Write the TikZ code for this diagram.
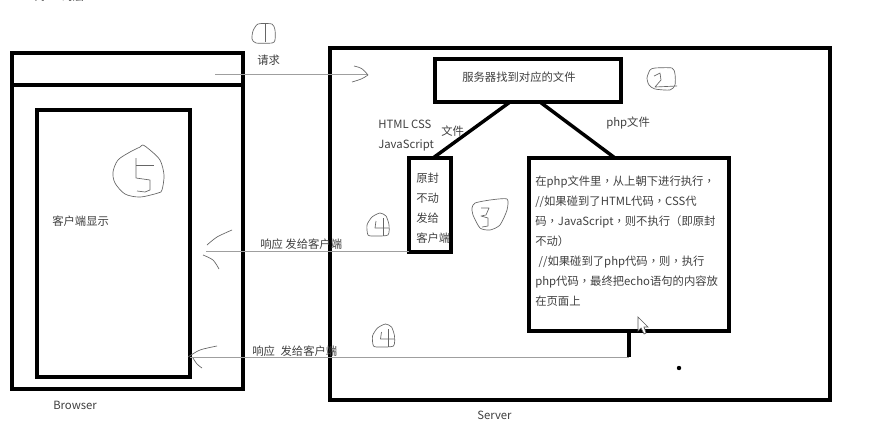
\documentclass[tikz,border=0pt]{standalone}
\usepackage{fontspec}
\setmainfont{Noto Sans CJK SC}
\newfontfamily\figPunct{Noto Sans CJK TC}
\usetikzlibrary{calc}
\definecolor{labelgray}{HTML}{404040}
\newcommand{\figPx}{.75pt}
\newcommand{\figComma}{{\figPunct ，}}
\tikzset{
	frame/.style={draw=black, line width=2.6pt, inner sep=0pt, outer sep=0pt},
	bar/.style={draw=black, line width=2.6pt},
	wire/.style={draw=gray!75, line width=.6pt},
	sketch/.style={draw=gray!80!black, line width=.5pt, line join=round},
	tag/.style={text=labelgray, font=\fontsize{8.5pt}{15pt}\selectfont, inner sep=0pt, anchor=west, align=left}
}

\begin{document}
\begin{tikzpicture}[x=.75pt, y=-.75pt]
	\useasboundingbox (0,0) rectangle (880,433);
	\fill[white] (0,0) rectangle (880,433);

	% boxes
	\node[frame, minimum width=231*\figPx, minimum height=336*\figPx] (browser) at (127.5,221) {};
	\node[frame, minimum width=153*\figPx, minimum height=267*\figPx] (page) at (113.5,243.5) {};
	\node[frame, minimum width=500*\figPx, minimum height=352*\figPx] (server) at (580,224) {};
	\node[frame, minimum width=186*\figPx, minimum height=43*\figPx] (find) at (528,80.5) {};
	\node[frame, minimum width=42*\figPx, minimum height=94*\figPx] (keep) at (430,205) {};
	\node[frame, minimum width=200*\figPx, minimum height=173*\figPx] (php) at (629,244.5) {};

	\coordinate (barL) at (browser.west |- 0,85);
	\coordinate (barR) at (245,85);
	\draw[bar] (barL) -- (barR);

	\coordinate (findL) at (510,102);
	\coordinate (findR) at (540,102);
	\coordinate (keepTop) at (433,158);
	\coordinate (phpTop) at (615,158);
	\draw[bar] (findL) -- (keepTop);
	\draw[bar] (findR) -- (phpTop);

	\coordinate (phpDrop) at (php.south |- 0,357);
	\draw[bar] (php.south) -- (phpDrop);

	% thin arrows, heads drawn by hand
	\coordinate (reqFrom) at (215,74);
	\coordinate (reqTo) at (367,74);
	\draw[wire] (reqFrom) -- (reqTo);
	\coordinate (keepOut) at (keep.south west |- 0,251);
	\coordinate (respA) at (206,251);
	\draw[wire] (keepOut) -- (respA);
	\coordinate (respB) at (page.east |- 0,357);
	\draw[wire] (phpDrop) -- (respB);

	\draw[sketch] (354,66) .. controls (362,68) .. (368,75) .. controls (362,79) .. (352,82);
	\draw[sketch] plot[smooth] coordinates {(207,245) (217,237) (232,230)};
	\draw[sketch] plot[smooth] coordinates {(203,255) (213,260) (219,269)};
	\draw[sketch] plot[smooth] coordinates {(188,357) (200,350) (217,346)};
	\draw[sketch] plot[smooth] coordinates {(193,358) (197,364) (202,368)};

	% hand drawn numbers
	\draw[sketch] plot[smooth cycle, tension=.4] coordinates {(258,24) (272,24) (275,30) (275,40) (272,43) (256,43) (252,39) (253,31)};
	\draw[sketch] (265,23) -- (265,42);

	\draw[sketch] plot[smooth cycle, tension=.4] coordinates {(650,70) (655,68) (672,68) (675,74) (675,85) (670,90) (655,89) (649,85) (647,78)};
	\draw[sketch] (654,76) -- (660,73) -- (661,80) -- (655,87) -- (677,86);

	\draw[sketch] plot[smooth cycle, tension=.4] coordinates {(475,203) (490,200) (507,199) (507,210) (500,225) (490,230) (480,228) (473,215) (472,208)};
	\draw[sketch] (481,208) -- (489,208) -- (486,215) -- (481,216) -- (488,218) -- (488,226) -- (482,227);

	\foreach \dx/\dy in {0/0, 5.5/111}{
		\begin{scope}[shift={(\dx,\dy)}]
			\draw[sketch] plot[smooth cycle, tension=.4] coordinates {(372,217) (380,213) (386,216) (389,225) (388,235) (375,236) (368,235) (367,225)};
			\draw[sketch] (376,221) -- (375,228) -- (389,228);
			\draw[sketch] (383,218) -- (383,236);
		\end{scope}
	}

	\draw[sketch] plot[smooth cycle, tension=.5] coordinates {(113,172) (118,160) (130,152) (140,147) (143,145) (150,150) (160,160) (164,175) (162,190) (158,193) (140,197) (125,194) (115,183)};
	\draw[sketch] (136,158) -- (136,178) -- (150,180) -- (150,190) -- (145,192) -- (137,191);
	\draw[sketch] (136,165) -- (154,165);

	% texts
	\node[tag] (cutTitle) at (33,-4) {代\hspace{1.5em}码层};
	\node[tag] (reqText) at (257,60) {请求};
	\node[tag] (findText) at (462,77) {服务器找到对应的文件};
	\node[tag] (htmlText) at (378,124) {HTML CSS};
	\node[tag] (jsText) at (378,145) {JavaScript};
	\node[tag] (fileText) at (441,131) {文件};
	\node[tag] (phpFileText) at (606,123) {php文件};
	\node[tag, anchor=north west] (keepText) at (416,173) {原封\\不动\\发给\\客户端};
	\node[tag, anchor=north west] (phpText) at (535,176) {在php文件里\figComma 从上朝下进行执行\figComma\\//如果碰到了HTML代码\figComma CSS代\\码\figComma JavaScript\figComma 则不执行（即原封\\不动）\\\hspace{.3em}//如果碰到了php代码\figComma 则\figComma 执行\\php代码\figComma 最终把echo语句的内容放\\在页面上};
	\node[tag] (showText) at (52,221) {客户端显示};
	\node[tag] (respAText) at (260,244) {响应 发给客户端};
	\node[tag] (respBText) at (252,351) {响应\hspace{.5em}发给客户端};
	\node[tag] (browserText) at (53,405) {Browser};
	\node[tag] (serverText) at (477,415) {Server};

	% cursor and stray dot
	\draw[draw=gray!70!black, fill=white, line width=.5pt] (638,317) -- (638,331) -- (641,328) -- (644,334) -- (646,333) -- (644,327) -- (648,327) -- cycle;
	\fill[black] (679,368) circle (2.2);
\end{tikzpicture}
\end{document}
